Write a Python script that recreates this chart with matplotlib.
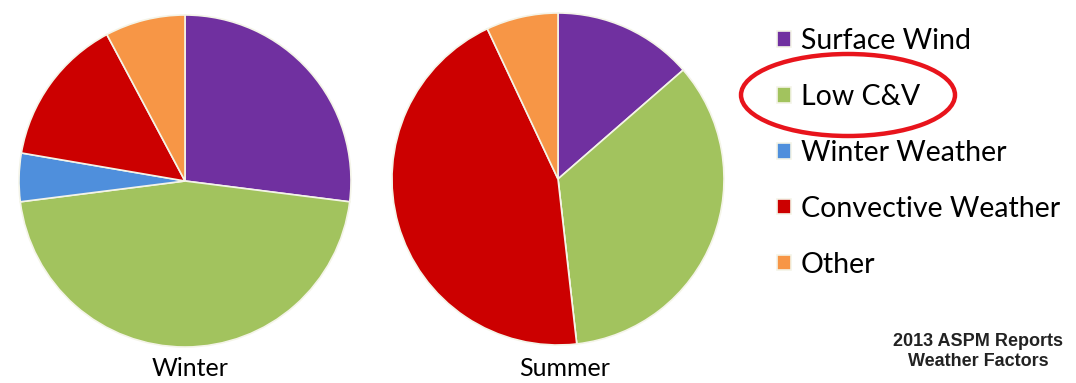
import matplotlib.pyplot as plt
from matplotlib.patches import Ellipse

# Data (percent shares)
categories = ['Surface Wind', 'Low C&V', 'Winter Weather', 'Convective Weather', 'Other']
winter = [27.0, 46.0, 4.7, 14.5, 7.8]
summer = [13.6, 34.6, 0.0, 44.8, 7.0]
colors = ['#7030a0', '#a2c35e', '#4f8fdc', '#cc0000', '#f79646']

W, H = 1076, 383
fig = plt.figure(figsize=(W / 100, H / 100), dpi=100)

def pie_axes(cx, cy, r):
    # place a square axes so the pie lands at pixel centre (cx, cy)
    return fig.add_axes([(cx - r) / W, (H - cy - r) / H, 2 * r / W, 2 * r / H])

wedge_kw = dict(edgecolor='#f4f4e8', linewidth=1.2)

ax1 = pie_axes(185, 181, 166)
wedges, _ = ax1.pie(winter, colors=colors, startangle=90, counterclock=False,
                    wedgeprops=wedge_kw)
ax1.set_xlim(-1, 1)
ax1.set_ylim(-1, 1)
ax1.set_aspect('equal')

ax2 = pie_axes(558, 179, 166)
ax2.pie(summer, colors=colors, startangle=90, counterclock=False,
        wedgeprops=wedge_kw)
ax2.set_xlim(-1, 1)
ax2.set_ylim(-1, 1)
ax2.set_aspect('equal')

fig.text(190 / W, 1 - 369 / H, 'Winter', fontsize=18, family='Lato',
         ha='center', va='center')
fig.text(565 / W, 1 - 369 / H, 'Summer', fontsize=18, family='Lato',
         ha='center', va='center')

# legend
fig.legend(wedges, categories, loc='upper left', bbox_to_anchor=(777 / W, 1 - 28 / H),
           frameon=False, prop={'family': 'Lato', 'size': 20.5},
           handlelength=0.48, handleheight=0.48, handletextpad=0.35,
           labelspacing=1.05, borderpad=0, borderaxespad=0)

# red circle around Low C&V
ov = fig.add_axes([0, 0, 1, 1], facecolor='none')
ov.set_xlim(0, W)
ov.set_ylim(H, 0)
ov.axis('off')
ov.add_patch(Ellipse((848, 95), 214, 82, fill=False, edgecolor='#e8141c', linewidth=3.2))

fig.text(978 / W, 1 - 342 / H, '2013 ASPM Reports', fontsize=13, fontweight='bold',
         family='Liberation Sans', ha='center', va='center', color='#222222')
fig.text(978 / W, 1 - 361 / H, 'Weather Factors', fontsize=13, fontweight='bold',
         family='Liberation Sans', ha='center', va='center', color='#222222')

fig.savefig('out.png', dpi=100)
